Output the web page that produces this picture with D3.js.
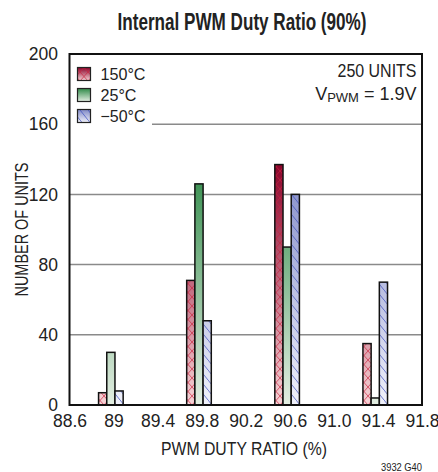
<!DOCTYPE html>
<html><head><meta charset="utf-8">
<script src="https://cdn.jsdelivr.net/npm/d3@7"></script>
<style>
body{margin:0;background:#fff;}
text{font-family:"Liberation Sans",Arial,sans-serif;fill:#222;}
</style></head><body>
<svg id="c" width="438" height="472"></svg>
<script>
const categories = [89.0, 89.8, 90.6, 91.4];
const seriesNames = ["150°C", "25°C", "−50°C"];
const hot = [7, 71, 137, 35];
const room = [30, 126, 90, 4];
const cold = [8, 48, 120, 70];
const xTicks = [88.6, 89.0, 89.4, 89.8, 90.2, 90.6, 91.0, 91.4, 91.8];
const xTickLabels = ["88.6", "89", "89.4", "89.8", "90.2", "90.6", "91.0", "91.4", "91.8"];
const yTicks = [0, 40, 80, 120, 160, 200];

const series = [
  {name: seriesNames[0], values: hot, id: "hot", top: "#8a0028", bot: "#f6d3d6", pat: "hatchX", lw: 45},
  {name: seriesNames[1], values: room, id: "room", top: "#2f8a48", bot: "#e3eee2", pat: null, lw: 36},
  {name: seriesNames[2], values: cold, id: "cold", top: "#7f88c6", bot: "#f0f1fa", pat: "hatchD", lw: 45}
];

const svg = d3.select("#c");
const L = 69.5, R = 422, T = 54, B = 405;
const x = d3.scaleLinear().domain([88.6, 91.8]).range([L, R]);
const y = d3.scaleLinear().domain([0, 200]).range([B, T]);
const bw = 8.2, off = -2.7;

const defs = svg.append("defs");
series.forEach(s => {
  const g = defs.append("linearGradient").attr("id", "g_" + s.id)
    .attr("gradientUnits", "userSpaceOnUse").attr("x1", 0).attr("x2", 0)
    .attr("y1", y(0)).attr("y2", y(140));
  g.append("stop").attr("offset", 0).attr("stop-color", s.bot);
  g.append("stop").attr("offset", 1).attr("stop-color", s.top);
  const gl = defs.append("linearGradient").attr("id", "gl_" + s.id)
    .attr("x1", 0).attr("x2", 0).attr("y1", 1).attr("y2", 0);
  gl.append("stop").attr("offset", 0).attr("stop-color", s.bot);
  gl.append("stop").attr("offset", 1).attr("stop-color", s.top);
});
const px = defs.append("pattern").attr("id", "hatchX").attr("patternUnits", "userSpaceOnUse")
  .attr("width", 8).attr("height", 9);
px.append("path").attr("d", "M0,0L8,9M8,0L0,9").attr("stroke", "#c8203c").attr("stroke-width", 0.9).attr("opacity", 0.75);
const pd = defs.append("pattern").attr("id", "hatchD").attr("patternUnits", "userSpaceOnUse")
  .attr("width", 8).attr("height", 10);
pd.append("path").attr("d", "M0,0L8,10M-8,0L0,10M8,-10L16,0").attr("stroke", "#3a4cc0").attr("stroke-width", 0.9).attr("opacity", 0.8);

// gridlines
const grid = svg.append("g");
[40, 80, 120].forEach(v => {
  grid.append("line").attr("x1", L).attr("x2", R).attr("y1", y(v)).attr("y2", y(v))
    .attr("stroke", "#8a8a8a").attr("stroke-width", 1.5);
});
grid.append("line").attr("x1", 152).attr("x2", R).attr("y1", y(160)).attr("y2", y(160))
  .attr("stroke", "#8a8a8a").attr("stroke-width", 1.5);

// bars
series.forEach((s, si) => {
  const g = svg.append("g");
  s.values.forEach((v, i) => {
    const cx = x(categories[i]) + off + (si - 1) * bw;
    const rx = cx - bw / 2;
    g.append("rect").attr("x", rx).attr("y", y(v)).attr("width", bw).attr("height", y(0) - y(v))
      .attr("fill", "url(#g_" + s.id + ")");
    if (s.pat) g.append("rect").attr("x", rx).attr("y", y(v)).attr("width", bw).attr("height", y(0) - y(v))
      .attr("fill", "url(#" + s.pat + ")");
    g.append("rect").attr("x", rx).attr("y", y(v)).attr("width", bw).attr("height", y(0) - y(v))
      .attr("fill", "none").attr("stroke", "#111").attr("stroke-width", 1.5);
  });
});

// frame
svg.append("rect").attr("x", L).attr("y", T).attr("width", R - L).attr("height", B - T)
  .attr("fill", "none").attr("stroke", "#111").attr("stroke-width", 2);

// axes (labels only)
const xAxis = d3.axisBottom(x).tickValues(xTicks).tickSize(0).tickPadding(10)
  .tickFormat((d, i) => xTickLabels[i]);
const xg = svg.append("g").attr("transform", `translate(0,${B})`).call(xAxis);
xg.select(".domain").remove();
xg.selectAll("text").attr("font-size", 17.5).attr("font-family", null).attr("fill", "#222").attr("dy", "0.71em");

const yAxis = d3.axisLeft(y).tickValues(yTicks).tickSize(0).tickPadding(11.5);
const yg = svg.append("g").attr("transform", `translate(${L},0)`).call(yAxis);
yg.select(".domain").remove();
yg.selectAll("text").attr("font-size", 17.5).attr("font-family", null).attr("fill", "#222");

// titles
svg.append("text").attr("x", 242).attr("y", 30).attr("text-anchor", "middle")
  .attr("font-size", 24.5).attr("font-weight", "bold").attr("fill", "#111")
  .attr("textLength", 249).attr("lengthAdjust", "spacingAndGlyphs")
  .text("Internal PWM Duty Ratio (90%)");
svg.append("text").attr("x", 244).attr("y", 455).attr("text-anchor", "middle")
  .attr("font-size", 18).attr("textLength", 166).attr("lengthAdjust", "spacingAndGlyphs")
  .text("PWM DUTY RATIO (%)");
svg.append("text").attr("transform", `translate(27.5,${(T + B) / 2}) rotate(-90)`).attr("text-anchor", "middle")
  .attr("font-size", 18).attr("textLength", 134).attr("lengthAdjust", "spacingAndGlyphs")
  .text("NUMBER OF UNITS");
svg.append("text").attr("x", 422).attr("y", 471).attr("text-anchor", "end")
  .attr("font-size", 10).attr("textLength", 41).attr("lengthAdjust", "spacingAndGlyphs").text("3932 G40");

// legend
series.forEach((s, i) => {
  const ly = 67.5 + i * 21;
  svg.append("rect").attr("x", 77.5).attr("y", ly).attr("width", 13).attr("height", 13)
    .attr("fill", "url(#gl_" + s.id + ")");
  if (s.pat) svg.append("rect").attr("x", 77.5).attr("y", ly).attr("width", 13).attr("height", 13)
    .attr("fill", "url(#" + s.pat + ")");
  svg.append("rect").attr("x", 77.5).attr("y", ly).attr("width", 13).attr("height", 13)
    .attr("fill", "none").attr("stroke", "#222").attr("stroke-width", 1.2);
  svg.append("text").attr("x", 100.5).attr("y", ly + 12.5).attr("font-size", 16.5)
    .attr("textLength", s.lw).attr("lengthAdjust", "spacingAndGlyphs").text(s.name);
});

// annotations
svg.append("text").attr("x", 416.5).attr("y", 77).attr("text-anchor", "end").attr("font-size", 18)
  .attr("textLength", 79).attr("lengthAdjust", "spacingAndGlyphs").text("250 UNITS");
const vt = svg.append("text").attr("x", 416.5).attr("y", 100).attr("text-anchor", "end").attr("font-size", 18);
vt.append("tspan").text("V");
vt.append("tspan").attr("font-size", 13).attr("dy", 2).text("PWM");
vt.append("tspan").attr("dy", -2).text(" = 1.9V");
</script></body></html>
